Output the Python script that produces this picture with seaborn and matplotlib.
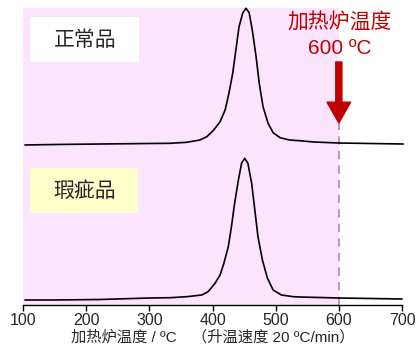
import matplotlib
matplotlib.use("Agg")
import matplotlib.pyplot as plt
from matplotlib.patches import Rectangle
import seaborn as sns
import pandas as pd

# ---- data ----
normal_temp = [103, 150, 222, 300, 333, 359, 380, 391, 401, 412, 420, 426, 432, 437, 442,
               448, 453, 458, 463, 469, 474, 480, 488, 496, 507, 522, 538, 560, 600, 650, 702]
normal_signal = [160, 160.5, 161, 161.5, 161.7, 162.7, 165, 168.3, 174.3, 183.3, 195, 211.7,
                 231.7, 255, 278.3, 292.3, 296.7, 292.3, 275, 248.3, 221.7, 198.3, 181.7,
                 172.3, 167.3, 165, 164.3, 163, 162, 161.5, 161]

defect_temp = [103, 150, 222, 300, 333, 359, 383, 393, 404, 412, 418, 425, 430, 435, 441,
               446, 451, 456, 462, 467, 472, 479, 487, 496, 509, 528, 538, 570, 600, 650, 700]
defect_signal = [5, 5, 5.5, 7, 7.3, 8.3, 10, 13.3, 21.7, 30, 41.7, 58.3, 78.3, 101.7, 125,
                 141.7, 146.7, 141.7, 121.7, 95, 68.3, 45, 26.7, 15, 10, 8.3, 8, 7.5, 7, 6.5, 6]

x_ticks = [100, 200, 300, 400, 500, 600, 700]
furnace_temp = 600
sample_labels = ["正常品", "瑕疵品"]
annot_title = "加热炉温度"
annot_value = "600 ºC"
x_label = "加热炉温度 / ºC　（升温速度 20 ºC/min）"

df = pd.concat([
    pd.DataFrame({"temp": normal_temp, "signal": normal_signal, "sample": sample_labels[0]}),
    pd.DataFrame({"temp": defect_temp, "signal": defect_signal, "sample": sample_labels[1]}),
])

sns.set_theme(style="white")
fonts = ["Liberation Sans", "Noto Sans CJK SC", "DejaVu Sans"]
plt.rcParams["font.family"] = fonts

fig = plt.figure(figsize=(4.18, 3.48), dpi=100)
ax = fig.add_axes([23 / 418, 1 - 305 / 348, (402 - 23) / 418, (305 - 8) / 348])

ax.axvspan(100, furnace_temp, color="#fce4fc", zorder=0, lw=0)

sns.lineplot(data=df, x="temp", y="signal", units="sample", estimator=None,
             color="black", lw=1.2, ax=ax, sort=False, legend=False,
             solid_joinstyle="round", solid_capstyle="round")
for ln in ax.lines:
    ln.set_clip_on(False)

ax.set_xlim(100, 700)
ax.set_ylim(0, 297)
ax.set_xticks(x_ticks)
ax.set_xticklabels([str(t) for t in x_ticks], fontsize=11.5)
ax.set_yticks([])
for s in ["left", "right", "top"]:
    ax.spines[s].set_visible(False)
ax.spines["bottom"].set_color("black")
ax.spines["bottom"].set_linewidth(1.0)
ax.tick_params(axis="x", direction="out", length=4, width=1, color="black", pad=2,
               bottom=True)
ax.set_xlabel(x_label, fontsize=11, labelpad=1)
ax.set_ylabel("")

# dashed line at furnace temperature
ax.plot([furnace_temp, furnace_temp], [0, 183], color="#a8a8a8", lw=1.5,
        ls=(0, (4, 3)), zorder=1)

# red arrow
ax.annotate("", xy=(furnace_temp, 182), xytext=(furnace_temp, 243),
            arrowprops=dict(arrowstyle="simple,head_length=0.75,head_width=0.85,tail_width=0.22",
                            color="#c00000", mutation_scale=20, shrinkA=0, shrinkB=0))
ax.text(601, 283, annot_title, color="#c00000", fontsize=15, ha="center", va="center")
ax.text(601, 257, annot_value, color="#c00000", fontsize=15, ha="center", va="center")

# sample label boxes
ax.add_patch(Rectangle((111, 243), 172.5, 45, facecolor="white", edgecolor="none", zorder=2))
ax.text(198, 265, sample_labels[0], fontsize=15, ha="center", va="center", zorder=3)
ax.add_patch(Rectangle((111, 92), 171, 45, facecolor="#ffffcc", edgecolor="none", zorder=2))
ax.text(198, 114, sample_labels[1], fontsize=15, ha="center", va="center", zorder=3)

fig.savefig("out.png", dpi=100)
